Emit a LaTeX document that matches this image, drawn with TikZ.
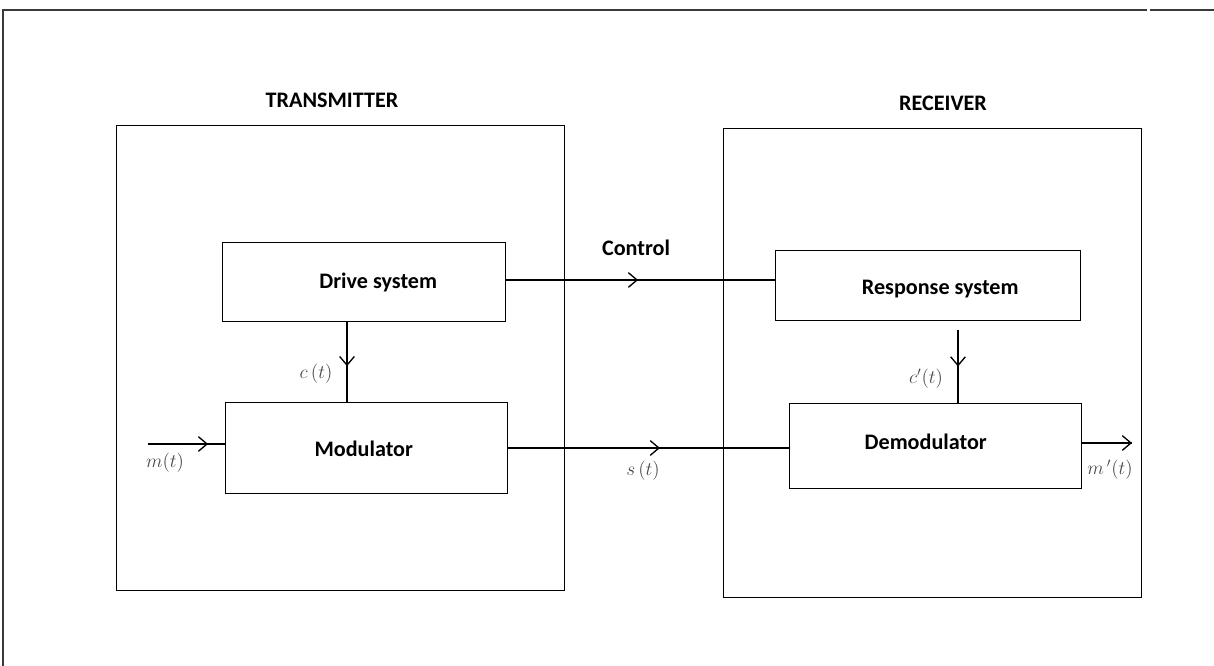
\documentclass[tikz,border=0pt]{standalone}
\usepackage{fontspec}
\setmainfont{Carlito}
\usetikzlibrary{arrows.meta,decorations.markings,calc}
\definecolor{framegray}{HTML}{3A3A3A}
\definecolor{labelgray}{HTML}{4A4A4A}
\begin{document}
\begin{tikzpicture}[x=0.75pt,y=-0.75pt,
  line width=1.1pt,
  blockbox/.style={draw, rectangle, anchor=north west, inner sep=0pt},
  panel/.style={draw, rectangle, anchor=north west, inner sep=0pt},
  title/.style={font=\fontsize{16.6}{19}\selectfont\bfseries},
  sig/.style={text=labelgray, font=\fontsize{14}{16}\selectfont},
  midarrow/.style={postaction={decorate}, decoration={markings,
    mark=at position #1 with {\arrow[line width=1pt]{Straight Barb[length=6.5pt,width=11pt]}}}}
]
\useasboundingbox (0,0) rectangle (1214,666);

% page frame
\draw[framegray, line width=1.3pt] (3,666) -- (3,10) -- (1147,10);
\draw[framegray, line width=1.3pt] (1150,10) -- (1214,10);

% transmitter and receiver panels
\node[panel, minimum width=448*0.75pt, minimum height=465*0.75pt] (tx) at (116,125) {};
\node[panel, minimum width=418*0.75pt, minimum height=469*0.75pt] (rx) at (723,128) {};
\node[title] (txlabel) at (332,100) {TRANSMITTER};
\node[title] (rxlabel) at (943,103) {RECEIVER};

% blocks
\node[blockbox, minimum width=283*0.75pt, minimum height=79*0.75pt] (drive) at (222,242) {};
\node[title] (drivetext) at ($(drive.center)+(14,0)$) {Drive system};
\node[blockbox, minimum width=282*0.75pt, minimum height=91*0.75pt] (mod) at (225,402) {};
\node[title] (modtext) at ($(mod.center)+(-3,1)$) {Modulator};
\node[blockbox, minimum width=305*0.75pt, minimum height=70*0.75pt] (resp) at (775,250) {};
\node[title] (resptext) at ($(resp.center)+(12,3)$) {Response system};
\node[blockbox, minimum width=292*0.75pt, minimum height=85*0.75pt] (demod) at (789,403) {};
\node[title] (demodtext) at ($(demod.center)+(-10,-4)$) {Demodulator};

% connector anchors
\coordinate (cx) at (347,0);
\coordinate (cpx) at (958,0);
\coordinate (respout) at (958,330);
\coordinate (min) at (148,444);
\coordinate (mout) at (1132,443);
\coordinate (ctrly) at (0,280);
\coordinate (sigy) at (0,448);

% control link
\draw[midarrow=0.49] (drive.east |- ctrly) -- (resp.west |- ctrly);
\node[title] (ctrl) at (636,248) {Control};

% carrier into modulator
\draw[midarrow=0.55] (drive.south -| cx) -- (mod.north -| cx);
\node[sig] (ct) at (316,374) {$c\,(t)$};

% message input
\draw[midarrow=0.78] (min) -- (mod.west |- min);
\node[sig] (mt) at (165,463) {$m(t)$};

% transmitted signal
\draw[midarrow=0.54] (mod.east |- sigy) -- (demod.west |- sigy);
\node[sig] (st) at (643,471) {$s\,(t)$};

% recovered carrier
\draw[midarrow=0.5] (respout) -- (demod.north -| cpx);
\node[sig] (cpt) at (926,379) {$c'(t)$};

% recovered message
\draw[midarrow=1] (demod.east |- mout) -- (mout);
\node[sig] (mpt) at (1110,470) {$m\,'(t)$};
\end{tikzpicture}
\end{document}
